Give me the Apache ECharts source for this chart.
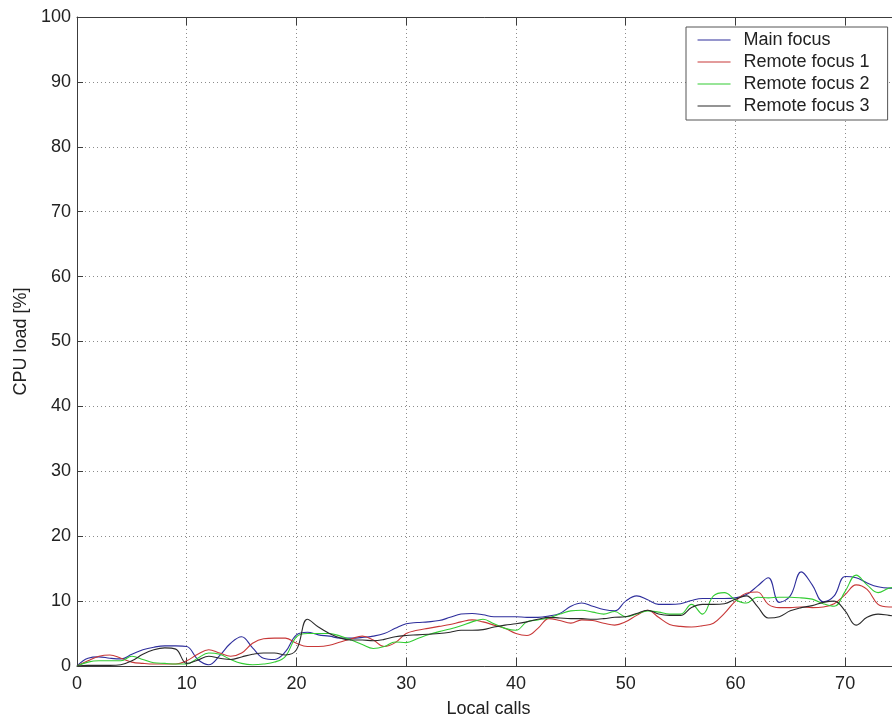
<!DOCTYPE html>
<html>
<head>
<meta charset="utf-8">
<title>CPU load vs local calls</title>
<script src="https://cdn.jsdelivr.net/npm/echarts@6/dist/echarts.min.js"></script>
<style>
  html, body { margin: 0; padding: 0; background: #fff; }
  #chart { width: 892px; height: 717px; }
</style>
</head>
<body>
<div id="chart"></div>
<script>
// Number of simultaneous local calls
const calls = [0,1,2,3,4,5,6,7,8,9,10,11,12,13,14,15,16,17,18,19,20,21,22,23,24,25,26,27,28,29,
  30,31,32,33,34,35,36,37,38,39,40,41,42,43,44,45,46,47,48,49,50,51,52,53,54,55,56,57,58,59,
  60,61,62,63,64,65,66,67,68,69,70,71,72,73,74,75];

// CPU load [%] measured on each focus
const mainFocus = [0,1.2,1.4,1.2,1.1,1.8,2.5,2.9,3.1,3.1,3.0,1.0,0.2,1.6,3.5,4.5,2.8,1.2,1.0,2.2,
  4.8,5.2,4.8,4.6,4.3,4.3,4.4,4.6,5.0,5.8,6.5,6.7,6.8,7.0,7.5,8.0,8.1,7.9,7.6,7.6,
  7.6,7.5,7.5,7.7,8.1,9.2,9.7,9.2,8.7,8.5,10.0,10.8,10.2,9.5,9.5,9.6,10.1,10.4,10.4,10.4,
  10.5,11.0,12.3,13.6,9.8,10.8,14.5,12.5,9.9,10.8,13.8,13.6,12.8,12.2,12.0,12.0];

const remoteFocus1 = [0,0.8,1.5,1.7,1.2,0.6,0.4,0.3,0.3,0.3,0.8,1.8,2.5,2.0,1.5,2.0,3.5,4.2,4.3,4.3,
  3.5,3.0,3.0,3.2,3.7,4.2,4.6,4.0,3.0,3.6,5.0,5.5,5.8,6.1,6.4,6.8,7.1,6.8,6.3,5.8,
  5.0,4.7,5.8,7.3,7.0,6.6,7.1,7.0,6.6,6.3,6.8,7.8,8.6,7.5,6.4,6.1,6.0,6.2,6.6,8.1,
  10.0,11.2,11.4,9.5,9.0,9.0,9.1,9.0,9.1,9.6,11.0,12.5,11.8,9.5,9.1,9.1];

const remoteFocus2 = [0,0.6,0.8,0.8,0.8,1.5,1.0,0.5,0.4,0.3,0.3,1.2,2.0,1.8,1.0,0.4,0.2,0.3,0.6,1.5,
  4.5,5.0,5.0,5.0,4.6,4.0,3.3,2.7,3.0,3.7,3.6,4.2,4.8,5.3,5.7,6.2,6.8,7.2,6.5,5.8,
  5.5,6.8,7.1,7.4,8.0,8.5,8.6,8.3,8.0,8.4,7.6,8.0,8.5,8.3,8.0,8.0,9.5,8.0,10.8,11.3,
  10.2,9.7,10.6,10.5,10.6,10.6,10.5,10.3,9.6,9.2,11.5,14.0,12.5,11.3,12.0,12.2];

const remoteFocus3 = [0,0.1,0.1,0.1,0.2,0.8,1.8,2.5,2.8,2.6,0.4,0.9,1.5,1.2,1.0,1.4,1.8,2.0,2.0,1.7,
  2.5,7.2,6.0,5.0,4.3,4.0,4.0,3.9,4.1,4.5,4.7,4.8,4.9,5.0,5.2,5.5,5.5,5.6,6.0,6.3,
  6.5,6.8,7.2,7.5,7.4,7.3,7.3,7.2,7.3,7.5,7.6,8.1,8.6,8.0,7.8,7.8,9.0,9.5,9.5,9.6,
  10.3,10.8,9.2,7.4,7.6,8.5,9.0,9.3,9.8,10.0,8.5,6.3,7.5,8.0,7.8,7.6];

const seriesNames = ['Main focus', 'Remote focus 1', 'Remote focus 2', 'Remote focus 3'];
const seriesValues = [mainFocus, remoteFocus1, remoteFocus2, remoteFocus3];
const seriesColors = ['#2e2e9c', '#c83838', '#33cc33', '#2a2a2a'];

const FONT = 'Liberation Sans, Arial, Helvetica, sans-serif';
const AXIS_COLOR = '#3c3c3c';
const GRID_COLOR = '#8c8c8c';

const chart = echarts.init(document.getElementById('chart'), null, { renderer: 'canvas' });

const series = seriesNames.map((name, i) => ({
  name: name,
  type: 'line',
  data: calls.map((c, k) => [c, seriesValues[i][k]]),
  smooth: 0.4,
  symbol: 'none',
  showSymbol: false,
  lineStyle: { width: 1.1, color: seriesColors[i] },
  itemStyle: { color: seriesColors[i] },
  emphasis: { disabled: true },
  animation: false,
  z: 3
}));

chart.setOption({
  animation: false,
  backgroundColor: '#ffffff',
  textStyle: { fontFamily: FONT },
  grid: { left: 77, top: 17, right: -8, bottom: 51, containLabel: false, outerBoundsMode: 'none' },
  legend: {
    data: seriesNames,
    orient: 'vertical',
    left: 686,
    top: 27,
    padding: [2, 18, 3, 11],
    itemWidth: 33,
    itemHeight: 22,
    itemGap: 0,
    backgroundColor: '#ffffff',
    borderColor: '#555555',
    borderWidth: 1,
    borderRadius: 0,
    selectedMode: false,
    itemStyle: { opacity: 0 },
    lineStyle: { width: 1.1 },
    textStyle: { fontFamily: FONT, fontSize: 18, color: '#222', lineHeight: 22, padding: [0, 0, 0, 8] }
  },
  xAxis: [{
    type: 'value',
    min: 0,
    max: 75,
    interval: 10,
    name: 'Local calls',
    nameLocation: 'middle',
    nameGap: 34,
    nameTextStyle: { fontFamily: FONT, fontSize: 18, color: '#222' },
    axisLine: { show: true, onZero: false, lineStyle: { color: AXIS_COLOR, width: 1 } },
    axisTick: { show: true, inside: true, length: 8, lineStyle: { color: AXIS_COLOR } },
    axisLabel: { fontFamily: FONT, fontSize: 18, color: '#222', margin: 9, showMaxLabel: false },
    splitLine: { show: true, lineStyle: { type: [1, 3], color: GRID_COLOR, width: 1 } }
  }, {
    type: 'value',
    position: 'top',
    min: 0,
    max: 75,
    interval: 10,
    axisLine: { show: true, onZero: false, lineStyle: { color: AXIS_COLOR, width: 1 } },
    axisTick: { show: true, inside: true, length: 8, lineStyle: { color: AXIS_COLOR } },
    axisLabel: { show: false },
    splitLine: { show: false }
  }],
  yAxis: {
    type: 'value',
    min: 0,
    max: 100,
    interval: 10,
    name: 'CPU load [%]',
    nameLocation: 'middle',
    nameGap: 42,
    nameRotate: 90,
    nameTextStyle: { fontFamily: FONT, fontSize: 18, color: '#222' },
    axisLine: { show: true, onZero: false, lineStyle: { color: AXIS_COLOR, width: 1 } },
    axisTick: { show: true, inside: true, length: 6, lineStyle: { color: AXIS_COLOR } },
    axisLabel: { fontFamily: FONT, fontSize: 18, color: '#222', margin: 6 },
    splitLine: { show: true, lineStyle: { type: [1, 3], color: GRID_COLOR, width: 1 } }
  },
  series: series
});
</script>
</body>
</html>
